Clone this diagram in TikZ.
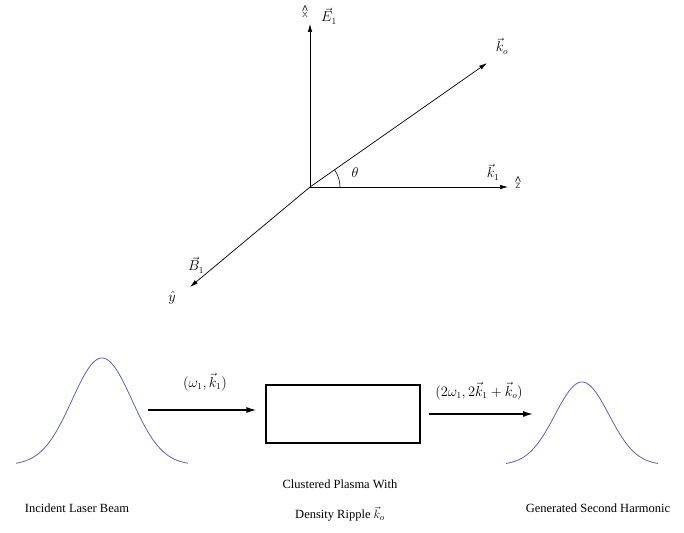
\documentclass[tikz,border=0pt]{standalone}
\usepackage{fontspec}
\setmainfont{Liberation Serif}
\usetikzlibrary{arrows.meta}

\definecolor{pulseblue}{RGB}{95,95,185}

\begin{document}
\begin{tikzpicture}[
  x=1pt,y=-1pt,
  inner sep=1pt,
  font=\fontsize{12.5}{14}\selectfont,
  axis/.style={line width=0.7pt,-{Latex[length=8pt,width=4.5pt]}},
  beam/.style={line width=1.3pt,-{Latex[length=10pt,width=6pt]}},
  pulse/.style={pulseblue,line width=0.8pt},
  vlabel/.style={font=\fontsize{13.5}{15}\selectfont},
  unit/.style={font=\fontsize{12}{13}\sffamily,align=center,text=black!70}
]
\useasboundingbox (0,0) rectangle (684,532);

% axes
\coordinate (O) at (310,187);
\coordinate (xtip) at (310,24);
\coordinate (ztip) at (508,187);
\coordinate (ytip) at (190,287);
\coordinate (kotip) at (487,63);
\draw[axis] (O) -- (xtip);
\draw[axis] (O) -- (ztip);
\draw[axis] (O) -- (ytip);
\draw[axis] (O) -- (kotip);
\draw[line width=0.6pt] (O) ++(30,0) arc[start angle=0,end angle=-35,radius=30];

\node[unit] (xhat) at (305,12) {\textcolor{black}{\bfseries\rmfamily\^{}}\\[-9pt]x};
\node[vlabel] (E1) at (329,16) {$\vec{E}_1$};
\node[vlabel] (ko) at (502,46) {$\vec{k}_o$};
\node[vlabel] (theta) at (355,172) {$\theta$};
\node[vlabel] (k1) at (493,172) {$\vec{k}_1$};
\node[unit] (zhat) at (518,183) {\textcolor{black}{\bfseries\rmfamily\^{}}\\[-9pt]z};
\node[vlabel] (B1) at (196,265) {$\vec{B}_1$};
\node[vlabel] (yhat) at (172,298) {$\hat{y}$};

% incident and generated pulses
\draw[pulse] plot[domain=-86:86,samples=90,smooth] ({102+\x},{465-107*exp(-(\x*\x)/1800)});
\draw[pulse] plot[domain=-76:76,samples=90,smooth] ({582+\x},{465-83*exp(-(\x*\x)/1450)});

% plasma box
\node[draw,line width=1.3pt,minimum width=154pt,minimum height=58pt] (box) at (343,414) {};
\coordinate (out) at (533,414);
\draw[beam] (148,410) coordinate (in) -- (box.west |- in) [shorten >=9pt];
\draw[beam,shorten <=8pt] (box.east) -- (out);
\node[vlabel] (win) at (205,382) {$(\omega_1,\vec{k}_1)$};
\node[vlabel] (wout) at (479,391) {$(2\omega_1,2\vec{k}_1+\vec{k}_o)$};

% captions
\node (inc) at (77,508) {Incident Laser Beam};
\node (clu) at (340,484) {Clustered Plasma With};
\node (den) at (340,514) {Density Ripple $\vec{k}_o$};
\node (gen) at (598,508) {Generated Second Harmonic};
\end{tikzpicture}
\end{document}
